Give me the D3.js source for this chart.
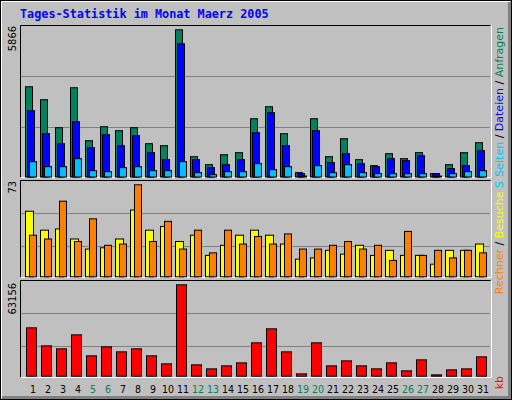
<!DOCTYPE html><html><head><meta charset="utf-8">
<script src="https://cdn.jsdelivr.net/npm/d3@7"></script>
<style>body{margin:0;background:#fff}</style></head><body>
<svg id="c" width="512" height="400"></svg>
<script>
const days=d3.range(1,32);
const weekend=[5,6,12,13,19,20,26,27];
const hits=[3596,3079,1964,3556,1446,2004,1845,1964,1327,1247,5866,809,491,889,969,2322,2800,1725,173,2322,809,1526,690,451,929,730,969,133,491,969,1367];
const files=[2641,1725,1327,2203,1168,1685,1247,1645,969,690,5308,690,372,491,690,1765,2561,1247,133,1845,571,929,531,411,730,650,849,133,332,451,1048];
const pages=[610,411,411,730,252,212,372,411,252,252,610,173,93,212,212,531,292,411,40,451,173,491,173,133,133,133,133,40,133,212,252];
const visits=[52,37,38,30,22,23,30,53,37,40,28,33,17,25,33,37,33,26,14,15,21,18,25,17,21,17,17,10,21,21,26];
const sites=[33,30,60,28,46,25,26,73,28,44,22,37,19,37,26,32,26,34,22,22,25,28,22,25,13,36,17,21,15,21,19];
const kb=[33420,20975,18900,28580,14060,20280,16830,18900,14060,8530,63156,7840,5070,7150,9220,23050,32730,16830,1610,23050,7150,10600,7150,5070,9220,3690,11290,920,4380,5070,13370];

const svg=d3.select("#c");
svg.append("rect").attr("x",0).attr("y",0).attr("width",512).attr("height",400).attr("fill","#c0c0c0");
svg.append("rect").attr("x",0.5).attr("y",0.5).attr("width",511).attr("height",399).attr("fill","none").attr("stroke","#000");
svg.append("path").attr("d","M1.5,398V1.5H510").attr("stroke","#fff").attr("fill","none");
svg.append("path").attr("d","M2,397.5H509.5V2").attr("stroke","#808080").attr("stroke-width",3).attr("fill","none");
svg.append("text").attr("x",20).attr("y",18).text("Tages-Statistik im Monat Maerz 2005")
 .attr("font-family","DejaVu Sans Mono").attr("font-weight","bold").attr("font-size",11.8).attr("fill","#0000ff");

const x=d3.scaleBand().domain(days).range([25,25+15*31]).paddingInner(0).paddingOuter(0);

function panel(top,bottom){
  svg.append("rect").attr("x",20.5).attr("y",top+0.5).attr("width",470).attr("height",bottom-top).attr("fill","#c0c0c0");
  svg.append("path").attr("d",`M20.5,${bottom+0.5}V${top+0.5}H490.5`).attr("stroke","#000").attr("fill","none");
  svg.append("path").attr("d",`M20.5,${bottom+0.5}H491.5V${top+0.5}`).attr("stroke","#fff").attr("fill","none");
}
function grid(ys){ys.forEach(y=>svg.append("line").attr("x1",21).attr("x2",490).attr("y1",y).attr("y2",y).attr("stroke","#808080"));}
function bars(data,y,off,w,col){
  svg.append("g").selectAll("rect").data(days).join("rect")
   .attr("x",d=>x(d)+off+0.5).attr("width",w)
   .attr("y",(d,i)=>y(data[i])+0.5).attr("height",(d,i)=>Math.max(0,y(0)-y(data[i])))
   .attr("fill",col).attr("stroke","#000");
}
function leftLabel(t,y){
  svg.append("text").attr("transform",`translate(16,${y}) rotate(-90)`).attr("text-anchor","end")
   .attr("font-family","DejaVu Sans Condensed").attr("font-size",11).attr("fill","#000").text(t);
}
function rightLabel(parts,y){
  const t=svg.append("text").attr("transform",`translate(503,${y}) rotate(-90)`).attr("text-anchor","end")
   .attr("font-family","DejaVu Sans").attr("font-size",11);
  parts.forEach(p=>t.append("tspan").attr("fill",p[1]).text(p[0]));
}
panel(25,177);
grid([76.5,127.5]);
const y1=d3.scaleLinear().domain([0,5866]).range([176.5,29.3]);
bars(hits,y1,0,7,"#00805c");
bars(files,y1,2,7,"#0000ff");
bars(pages,y1,4,7,"#00c0ff");
leftLabel("5866",26);
rightLabel([["Seiten","#00c0ff"],[" / ","#000"],["Dateien","#0000ff"],[" / ","#000"],["Anfragen","#00805c"]],27);
panel(180,277);
grid([213.5,246.5]);
const y2=d3.scaleLinear().domain([0,73]).range([276.3,184.3]);
bars(visits,y2,0,8,"#ffff00");
bars(sites,y2,4,7,"#ff8000");
leftLabel("73",181);
rightLabel([["Rechner","#ff8000"],[" / ","#000"],["Besuche","#ffff00"],[" ","#000"],["S","#00c0ff"]],181);
panel(280,377);
grid([313.5,346.5]);
const y3=d3.scaleLinear().domain([0,63156]).range([375.7,284.3]);
bars(kb,y3,1,10,"#ff0000");
leftLabel("63156",283);
rightLabel([["kb","#ff0000"]],376);
svg.append("g").selectAll("text").data(days).join("text")
 .attr("x",d=>x(d)+8).attr("y",393).attr("text-anchor","middle")
 .attr("font-family","DejaVu Sans Condensed").attr("font-size",10.5)
 .attr("fill",d=>weekend.includes(d)?"#00805c":"#000").text(d=>d);
</script></body></html>
